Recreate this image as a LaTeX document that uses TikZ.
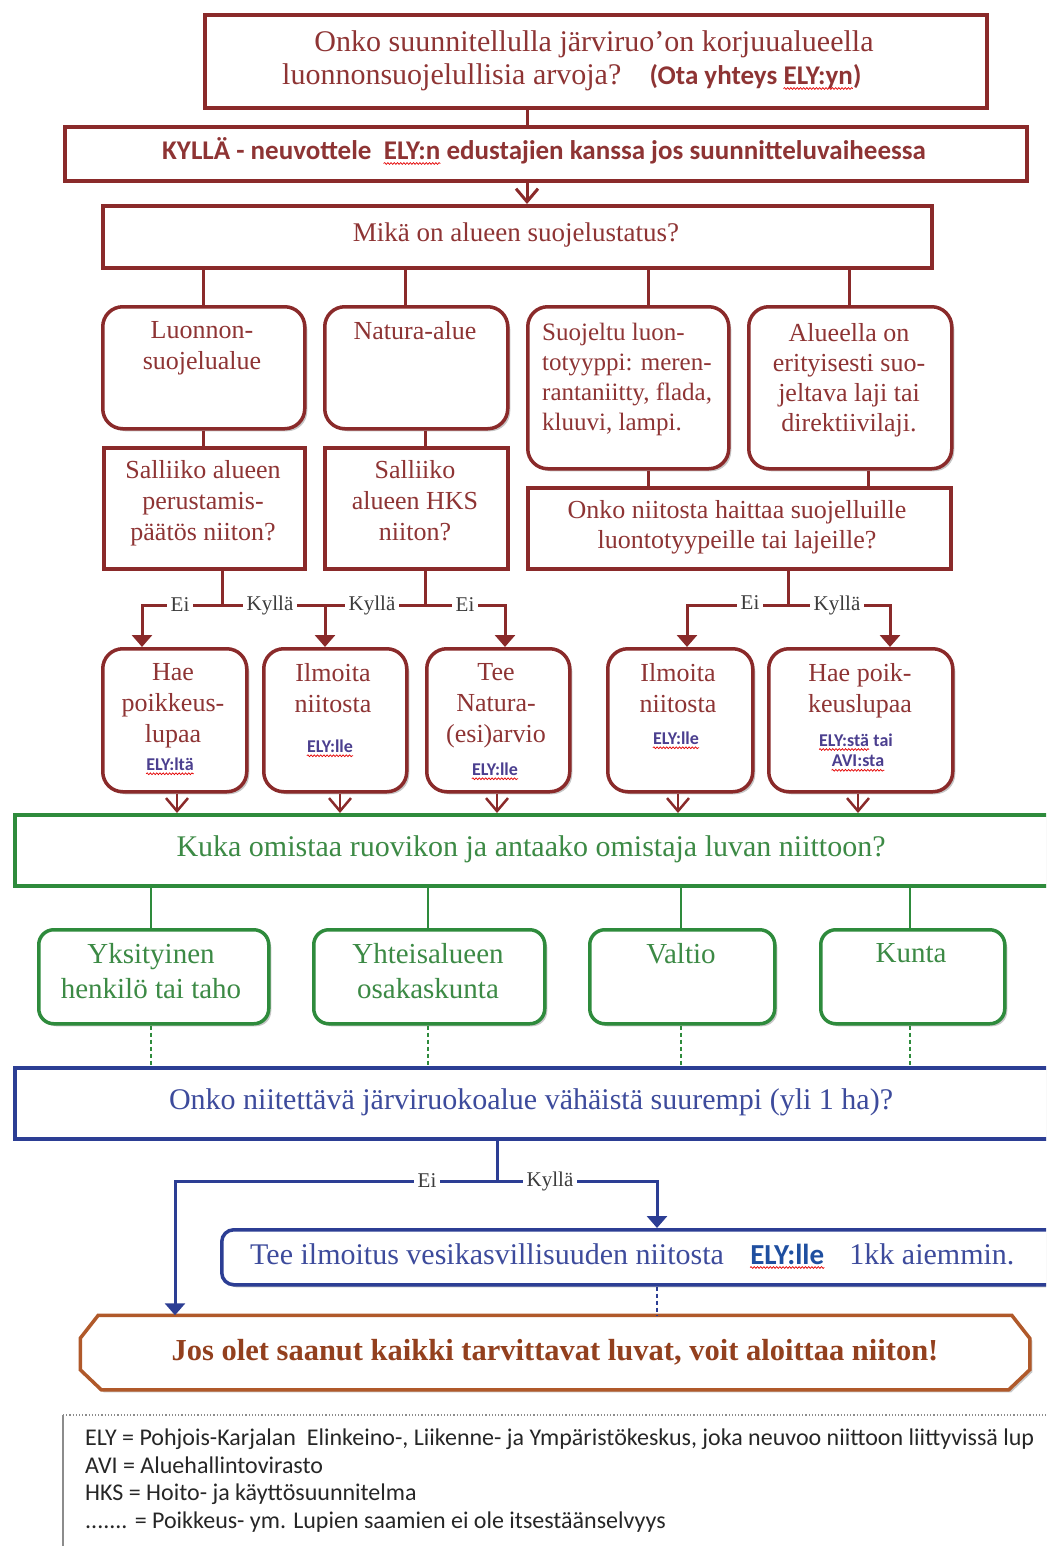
\documentclass[tikz,border=0pt]{standalone}
\usepackage{fontspec}
\setmainfont{Liberation Serif}
\newfontfamily\calfont{Carlito}
\usetikzlibrary{arrows.meta,shadows,decorations.pathmorphing}
\pgfdeclarelayer{bg}
\pgfsetlayers{bg,main}
\definecolor{dred}{HTML}{8A2A2A}
\definecolor{dredt}{HTML}{8E3434}
\definecolor{gline}{HTML}{2E8B3C}
\definecolor{gtext}{HTML}{3C8A45}
\definecolor{bline}{HTML}{2C3E94}
\definecolor{btext}{HTML}{3D4B9C}
\definecolor{brline}{HTML}{B0592A}
\definecolor{brtext}{HTML}{93401E}
\definecolor{lbl}{HTML}{3C3C3C}
\definecolor{elyc}{HTML}{4B3F8F}
\definecolor{elyb}{HTML}{1F4FA0}
\newcommand\bx[6]{\node[#1, anchor=north west, inner sep=0pt, minimum width={#5-#3}, minimum height={#6-#4}] (#2) at (#3,#4) {};}
\newcommand\wavy[1]{\draw[wave] ([yshift=-3.5pt]#1.base west) -- ([yshift=-3.5pt]#1.base east);}
\tikzset{
 shad/.style={drop shadow={shadow xshift=2.5pt, shadow yshift=-2.5pt, fill=black, opacity=0.22}},
 rbox/.style={draw=dred, line width=3.5pt, fill=white, rounded corners=20pt, shad},
 sbox/.style={draw=dred, line width=3.8pt, fill=white, shad},
 gbox/.style={draw=gline, line width=3.8pt, fill=white, shad},
 grbox/.style={draw=gline, line width=3.5pt, fill=white, rounded corners=15pt, shad},
 bbox/.style={draw=bline, line width=3.8pt, fill=white, shad},
 brbox/.style={draw=bline, line width=3.5pt, fill=white, rounded corners=12pt, shad},
 con/.style={draw=dred, line width=3pt},
 gcon/.style={draw=gline, line width=2.5pt},
 gdash/.style={draw=gline, line width=2.5pt, dash pattern=on 4pt off 3pt},
 bcon/.style={draw=bline, line width=3pt},
 bdash/.style={draw=bline, line width=2.5pt, dash pattern=on 4pt off 3pt},
 tri/.style={-{Triangle[length=12pt,width=20pt]}},
 barb/.style={-{Straight Barb[length=13pt,width=22pt]}},
 wave/.style={draw=red!90!black, line width=0.7pt, decorate, decoration={snake, amplitude=0.9pt, segment length=3.2pt}},
 lab/.style={fill=white, text=lbl, font=\fontsize{21}{24}\selectfont, inner xsep=4pt, inner ysep=1pt},
 tx/.style={text=dredt, align=center, inner sep=0pt, font=\fontsize{26}{31}\selectfont, anchor=north},
 txbig/.style={text=dredt, align=center, inner sep=0pt, font=\fontsize{30}{35}\selectfont},
 cal/.style={text=dredt, inner sep=0pt, anchor=base west, font=\calfont\bfseries\fontsize{27}{30}\selectfont},
 ely/.style={text=elyc, align=center, inner sep=0pt, font=\calfont\bfseries\fontsize{18}{20}\selectfont},
 gtx/.style={text=gtext, align=center, inner sep=0pt, font=\fontsize{29}{35}\selectfont, anchor=north},
}
\begin{document}
\begin{tikzpicture}[x=1pt,y=-1pt]
\useasboundingbox (0,0) rectangle (1046,1546);
\clip (0,0) rectangle (1046,1546);
% ---------- boxes ----------
\bx{sbox}{top}{203}{13}{985}{106}
\bx{sbox}{kyl}{63}{125}{1025}{179}
\bx{sbox}{mika}{101}{204}{930}{266}
\bx{rbox}{luo}{101}{305}{303}{427}
\bx{rbox}{nat}{323}{305}{506}{427}
\bx{rbox}{suo}{526}{305}{727}{467}
\bx{rbox}{alu}{747}{305}{950}{467}
\bx{sbox}{sal1}{102}{446}{303}{567}
\bx{sbox}{sal2}{323}{446}{506}{567}
\bx{sbox}{onk}{526}{486}{949}{567}
\bx{rbox}{hae1}{101}{647}{245}{790}
\bx{rbox}{ilm1}{262}{647}{405}{790}
\bx{rbox}{tee1}{425}{647}{568}{790}
\bx{rbox}{ilm2}{606}{647}{751}{790}
\bx{rbox}{hae2}{767}{647}{951}{790}
\bx{gbox}{kuka}{13}{813}{1070}{884}
\bx{grbox}{yks}{37}{928}{267}{1022}
\bx{grbox}{yht}{312}{928}{543}{1022}
\bx{grbox}{val}{588}{928}{773}{1022}
\bx{grbox}{kun}{819}{928}{1003}{1022}
\bx{bbox}{onko2}{13}{1066}{1070}{1137}
\bx{brbox}{teeilm}{220}{1228}{1070}{1283}
\node[inner sep=0pt, outer sep=1.75pt, minimum width=946pt, minimum height=71pt, text=brtext, font=\bfseries\fontsize{30.5}{34}\selectfont] (fin) at (555,1352.5) {Jos olet saanut kaikki tarvittavat luvat, voit aloittaa niiton!};
\begin{pgfonlayer}{bg}
\draw[draw=brline, line width=3.5pt, fill=white, shad]
 ([xshift=18pt]fin.north west) -- ([xshift=-18pt]fin.north east) -- ([yshift=-23pt]fin.north east)
 -- ([yshift=20pt]fin.south east) -- ([xshift=-21pt]fin.south east) -- ([xshift=21pt]fin.south west)
 -- ([yshift=20pt]fin.south west) -- ([yshift=-23pt]fin.north west) -- cycle;
\end{pgfonlayer}
% ---------- coordinates ----------
\coordinate (v0) at (527,0);
\coordinate (v1) at (203,0);
\coordinate (v2) at (405,0);
\coordinate (v3) at (648,0);
\coordinate (v4) at (849,0);
\coordinate (v5) at (868,0);
\coordinate (j1) at (222,605);
\coordinate (hl) at (142,605);
\coordinate (ik) at (325,605);
\coordinate (j2) at (425,605);
\coordinate (tr) at (505,605);
\coordinate (j3) at (788,605);
\coordinate (il2) at (687,605);
\coordinate (hr2) at (890,605);
\coordinate (b1) at (177,0);
\coordinate (b2) at (340,0);
\coordinate (b3) at (497,0);
\coordinate (b4) at (678,0);
\coordinate (b5) at (858,0);
\coordinate (g1) at (151,0);
\coordinate (g2) at (428,0);
\coordinate (g3) at (681,0);
\coordinate (g4) at (910,0);
\coordinate (j4) at (497,1181);
\coordinate (bl) at (175,1181);
\coordinate (br) at (657,1181);
% ---------- connectors ----------
\draw[con] (top.south -| v0) -- (kyl.north -| v0);
\draw[con,barb] (kyl.south -| v0) -- (mika.north -| v0);
\draw[con] (mika.south -| v1) -- (luo.north -| v1);
\draw[con] (mika.south -| v2) -- (nat.north -| v2);
\draw[con] (mika.south -| v3) -- (suo.north -| v3);
\draw[con] (mika.south -| v4) -- (alu.north -| v4);
\draw[con] (luo.south -| v1) -- (sal1.north -| v1);
\draw[con] (nat.south -| j2) -- (sal2.north -| j2);
\draw[con] (suo.south -| v3) -- (onk.north -| v3);
\draw[con] (alu.south -| v5) -- (onk.north -| v5);
\draw[con] (sal1.south -| j1) -- (j1);
\draw[con] (sal2.south -| j2) -- (j2);
\draw[con,tri] (j1) -- (hl) -- (hae1.north -| hl);
\draw[con] (j1) -- (j2);
\draw[con,tri] (ik) -- (ilm1.north -| ik);
\draw[con,tri] (j2) -- (tr) -- (tee1.north -| tr);
\draw[con] (onk.south -| j3) -- (j3);
\draw[con,tri] (j3) -- (il2) -- (ilm2.north -| il2);
\draw[con,tri] (j3) -- (hr2) -- (hae2.north -| hr2);
\draw[con,line width=2.5pt,barb] (hae1.south -| b1) -- (kuka.north -| b1);
\draw[con,line width=2.5pt,barb] (ilm1.south -| b2) -- (kuka.north -| b2);
\draw[con,line width=2.5pt,barb] (tee1.south -| b3) -- (kuka.north -| b3);
\draw[con,line width=2.5pt,barb] (ilm2.south -| b4) -- (kuka.north -| b4);
\draw[con,line width=2.5pt,barb] (hae2.south -| b5) -- (kuka.north -| b5);
\draw[gcon] (kuka.south -| g1) -- (yks.north -| g1);
\draw[gcon] (kuka.south -| g2) -- (yht.north -| g2);
\draw[gcon] (kuka.south -| g3) -- (val.north -| g3);
\draw[gcon] (kuka.south -| g4) -- (kun.north -| g4);
\draw[gdash] (yks.south -| g1) -- (onko2.north -| g1);
\draw[gdash] (yht.south -| g2) -- (onko2.north -| g2);
\draw[gdash] (val.south -| g3) -- (onko2.north -| g3);
\draw[gdash] (kun.south -| g4) -- (onko2.north -| g4);
\draw[bcon] (onko2.south -| j4) -- (j4);
\draw[bcon,tri] (j4) -- (bl) -- (fin.north -| bl);
\draw[bcon,tri] (j4) -- (br) -- (teeilm.north -| br);
\draw[bdash] (teeilm.south -| br) -- (fin.north -| br);
% ---------- branch labels ----------
\node[lab] (l1) at (180,605) {Ei};
\node[lab] (l2) at (270,605) {Kyllä};
\node[lab] (l3) at (372,605) {Kyllä};
\node[lab] (l4) at (465,605) {Ei};
\node[lab] (l5) at (750,603) {Ei};
\node[lab] (l6) at (837,605) {Kyllä};
\node[lab] (l7) at (427,1181) {Ei};
\node[lab] (l8) at (550,1181) {Kyllä};
% ---------- texts ----------
\node[txbig, anchor=north] (t1) at (594,30) {Onko suunnitellulla järviruo’on korjuualueella};
\node[txbig, anchor=base west] (t2a) at (282,85) {luonnonsuojelullisia arvoja?};
\node[cal] (t2b) at ([xshift=28pt]t2a.base east) {(Ota yhteys};
\node[cal] (t2c) at ([xshift=6pt]t2b.base east) {ELY:yn};
\node[cal] (t2d) at (t2c.base east) {)};
\wavy{t2c}
\node[cal] (t3a) at (162,160) {KYLLÄ - neuvottele};
\node[cal] (t3b) at ([xshift=12pt]t3a.base east) {ELY:n};
\node[cal] (t3c) at ([xshift=6pt]t3b.base east) {edustajien kanssa jos suunnitteluvaiheessa};
\wavy{t3b}
\node[text=dredt, inner sep=0pt, font=\fontsize{27}{31}\selectfont] (t4) at (516,235) {Mikä on alueen suojelustatus?};
\node[tx] (t5) at (202,321) {Luonnon-\\suojelualue};
\node[tx] (t6) at (415,321) {Natura-alue};
\node[tx, anchor=north west, align=left, font=\fontsize{25}{30}\selectfont] (t7) at (542,323) {Suojeltu luon-\\totyyppi: meren-\\rantaniitty, flada,\\kluuvi, lampi.};
\node[tx, font=\fontsize{26}{30}\selectfont] (t8) at (849,323) {Alueella on\\erityisesti suo-\\jeltava laji tai\\direktiivilaji.};
\node[tx] (t9) at (203,460) {Salliiko alueen\\perustamis-\\päätös niiton?};
\node[tx] (t10) at (415,460) {Salliiko\\alueen HKS\\niiton?};
\node[tx, font=\fontsize{26}{30}\selectfont] (t11) at (737,500) {Onko niitosta haittaa suojelluille\\luontotyypeille tai lajeille?};
\node[tx] (t12) at (173,663) {Hae\\poikkeus-\\lupaa};
\node[tx] (t13) at (333,663) {Ilmoita\\niitosta};
\node[tx] (t14) at (496,663) {Tee\\Natura-\\(esi)arvio};
\node[tx] (t15) at (678,663) {Ilmoita\\niitosta};
\node[tx] (t16) at (860,663) {Hae poik-\\keuslupaa};
\node[ely] (e1) at (170,764) {ELY:ltä};
\node[ely] (e2) at (330,746) {ELY:lle};
\node[ely] (e3) at (495,769) {ELY:lle};
\node[ely] (e4) at (676,738) {ELY:lle};
\node[ely, anchor=base west] (e5a) at (819,746) {ELY:stä};
\node[ely, anchor=base west] (e5b) at ([xshift=4pt]e5a.base east) {tai};
\node[ely] (e5c) at (858,761) {AVI:sta};
\wavy{e1}
\wavy{e2}
\wavy{e3}
\wavy{e4}
\wavy{e5a}
\wavy{e5c}
\node[txbig, text=gtext] (t17) at (531,849) {Kuka omistaa ruovikon ja antaako omistaja luvan niittoon?};
\node[gtx] (t18) at (151,943) {Yksityinen\\henkilö tai taho};
\node[gtx] (t19) at (428,943) {Yhteisalueen\\osakaskunta};
\node[gtx] (t20) at (681,943) {Valtio};
\node[gtx] (t21) at (911,943) {Kunta};
\node[txbig, text=btext] (t22) at (531,1102) {Onko niitettävä järviruokoalue vähäistä suurempi (yli 1 ha)?};
\node[txbig, text=btext, anchor=base west] (t23a) at (250,1264) {Tee ilmoitus vesikasvillisuuden niitosta};
\node[cal, text=elyb, font=\calfont\bfseries\fontsize{29}{32}\selectfont] (t23b) at ([xshift=26pt]t23a.base east) {ELY:lle};
\node[txbig, text=btext, anchor=base west] (t23c) at ([xshift=25pt]t23b.base east) {1kk aiemmin.};
\wavy{t23b}
% ---------- legend ----------
\draw[black!45, line width=1.2pt, dotted] (63,1415) -- (1046,1415);
\draw[black!45, line width=1.5pt] (63,1415) -- (63,1546);
\node[anchor=north west, align=left, inner sep=0pt, text=black!85, font=\calfont\fontsize{24}{27.5}\selectfont] (leg) at (85,1429) {ELY = Pohjois-Karjalan\ \ Elinkeino-, Liikenne- ja Ympäristökeskus, joka neuvoo niittoon liittyvissä lup\\AVI = Aluehallintovirasto\\HKS = Hoito- ja käyttösuunnitelma\\....... = Poikkeus- ym. Lupien saamien ei ole itsestäänselvyys};
\end{tikzpicture}
\end{document}
